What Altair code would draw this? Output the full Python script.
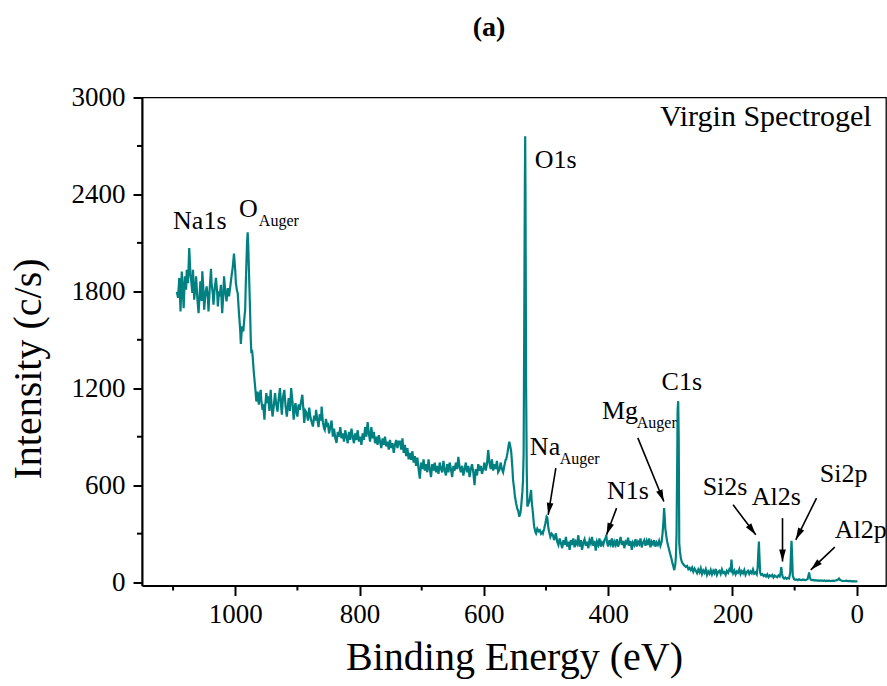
import altair as alt
import pandas as pd
import numpy as np

W, H = 744, 488
X_DOM = [-47, 1150]
Y_DOM = [-21, 3000]
FONT = "'Liberation Serif', 'Times New Roman', Times, serif"
TEAL = "#008080"

# ---- spectrum (binding energy eV, counts c/s) ----
e1 = [1094,1092,1090,1088,1086,1084,1083,1081,1079,1078,1076,1074,1072,1071,1069,1068,1066,1064,1063,1061,
      1059,1057,1056,1054,1053,1051,1050,1048,1046,1044,1043,1041,1039,1038,1036,1035,1033,1031,1029,1028,
      1026,1025,1023,1021,1019,1018,1016,1014,1012,1010,1008,1006,1004,1002,1000,999,997,996,994,992,
      991,989,987,985,984,983,982,981,980,979,978,976,975,974,973,972,970,968,966,964,
      962,961,959,958,956,955,953,952,950,948,947,945,943,942,940]
c1 = [1798,1760,1883,1675,1922,1780,1695,1893,1810,1934,1850,2068,1900,1872,1790,1934,1748,1830,1893,1760,
      1665,1800,1862,1740,1924,1800,1686,1780,1831,1760,1675,1820,1939,1850,1780,1717,1820,1883,1790,1707,
      1800,1769,1840,1665,1790,1893,1800,1738,1820,1769,1830,1893,1950,2033,1930,1852,1800,1790,1665,1560,
      1474,1583,1552,1650,1686,1850,1975,2100,2165,2080,1934,1665,1500,1417,1438,1400,1293,1211,1118,1180,
      1098,1150,1190,1120,1067,1100,1005,1080,1170,1108,1150,1060,1190,1120,1025]

e2 = [938,936,934,932,930,928,926,925,923,921,919,917,915,914,912,910,908,906,904,903,
      901,900,898,896,894,892,890,889,887,885,883,881,879,877,875,873,871,870,868,866,
      864,862,861,859,857,856,854,852,851,849,847,845,843,841,839,837,835]
c2 = [1090,1170,1100,1056,1140,1201,1080,1036,1150,1190,1090,1025,1100,1139,1060,1201,1120,1005,1090,1108,
      1040,1025,1100,1067,1120,1160,1050,985,1060,1046,1000,1080,1020,990,963,1030,1000,1066,1010,960,
      1040,1000,1087,990,950,942,1010,960,985,920,960,1000,901,950,890,862,930]

e3 = [833,831,829,827,825,823,821,819,817,815,813,811,809,807,805,803,801,799,797,795,
      793,791,789,787,785,783,781,779,777,775,773,771,769,767,765,763,761,759,757,755,
      753,751,749,747,745,743,741,739,737]
c3 = [900,960,890,920,870,940,900,860,930,880,950,900,860,920,880,940,870,900,850,920,
      880,960,900,990,920,870,960,890,930,860,900,850,910,870,830,890,850,900,840,870,
      820,880,830,860,800,850,880,830,870]

e4 = [735,733,731,729,727,725,723,721,719,717,715,713,711,709,707,705,703,701,699,697,
      695,693,691,689,687,685,683,681,679,677,675,673,671,669,667,665,663,661,659,657,
      655,653,651,649,647,645,643,641,639,637,635,633,631,629,627,625,623,621,619,617,
      615,613,611,609,607,605,603,601,599,597,595,593,591,589,587,585,583,581,579,577,
      575,573,571,569,567,565]
c4 = [870,820,890,800,850,780,830,760,800,757,810,740,780,720,770,700,640,740,700,760,
      690,730,680,760,700,650,730,690,740,680,720,670,740,700,680,750,690,660,730,680,
      740,700,650,720,690,740,700,776,710,680,720,660,700,740,680,720,650,700,730,680,
      600,700,660,730,690,720,670,700,740,690,730,818,740,700,760,690,730,700,750,680,
      694,740,700,680,720,757]

e5 = [564,562,560,559,557,556,554,553,551,550,548,546,545,543,541,540,538,537,536,535,
      534,533.5,533,532,531,530,528,527,525,524,523,521,520,519,517,516,514,512,510,508,
      506,505,503,501,500,499,498,496,495,493,491,489,487,485,484,482]
c5 = [760,800,850,869,830,807,700,632,570,530,487,450,446,405,430,467,560,632,800,1600,
      2500,2760,2400,1200,700,468,487,500,545,570,500,426,380,343,310,302,330,315,322,300,
      310,302,330,364,385,405,400,330,312,280,300,291,260,290,302,250]

e6 = [480,478,476,474,472,470,468,466,464,462,460,458,456,454,452,450,448,446,444,442,
      440,438,436,434,432,430,428,426,424,422,420,418,416,414,412,410,408,406,404,403,
      402,400,398,396,394,392,390,388,386,384,382,380,378,376,374,372,370,368,366,364,
      362,360,358,356,354,352,350,348,346,344,342,340,338,336,334,332,330,328,326,324,
      322,320,318,316,314]
c6 = [230,270,240,210,260,230,280,220,250,200,260,230,270,215,250,235,290,220,260,200,
      245,265,225,250,210,260,240,280,225,255,195,250,230,270,220,245,230,260,275,292,
      250,220,260,235,270,215,250,230,265,220,245,280,230,255,210,250,240,275,225,255,
      200,245,230,265,220,250,235,270,215,245,260,225,255,230,270,215,250,235,260,220,
      245,230,255,225,250]

e7 = [312.5,311,310,309,308,307,305.5,304.5,302.5,300.5,298.5,296.5,295,293.7,292,291,290,289,288.3,287.3,
      286.5,285.6,284.5,283,281.5,280,278,275,273,271,269,267,265,263,261,259,257,255]
c7 = [302,380,458,400,330,302,260,240,210,178,150,116,95,74,110,157,300,700,1065,1120,
      900,240,190,147,125,116,105,95,100,80,88,74,90,65,84,70,55,78]

e8 = [253,251,249,247,245,243,241,239,237,235,233,231,229,227,225,223,221,219,217,215,
      213,211,209,207,205,203,201.6,200.5,199,197,195,193,191,189,187,185,183,181,179,177,
      175,173,171,169,167,165,163,161,159.5,158.5,157.5,156.5,155.5,154,152,150,148,146,144,142,
      140,138,136,134,132,130,128,126,124,122.5,121.5,120.5,119,117,115,113,111,109,107,106,
      105,104,103,101,99,97,95,93,91,89,87,85,83,81,79,77.5,76.7,75.5,74,72,
      70,68,66,64,62,60,58,56,54,52,50,48,46,44,42,40,38,36,34,32,
      30,28.5,27,25,23,20,17,14,11,8,5,2,-1]
c8 = [60,85,50,72,58,80,45,66,52,75,48,70,55,82,45,64,70,50,78,56,
      62,45,70,58,80,70,140,80,55,72,48,66,58,80,50,68,55,75,45,62,
      70,50,66,55,78,52,60,48,90,180,251,150,60,45,50,38,45,35,48,30,
      42,36,44,28,40,35,30,42,35,60,93,55,30,22,28,20,25,22,60,170,
      256,160,40,18,14,16,12,18,14,12,16,14,12,15,20,45,60,30,15,12,
      14,10,12,9,11,8,10,9,8,10,7,9,8,9,7,8,9,8,10,12,
      16,22,14,10,8,7,9,6,7,5,6,4,4]

segs = [(e1, c1), (e2, c2), (e3, c3), (e4, c4), (e5, c5), (e6, c6), (e7, c7), (e8, c8)]
for i, (e, c) in enumerate(segs):
    assert len(e) == len(c), (i, len(e), len(c))
energy = [v for e, _ in segs for v in e]
counts = [v for _, c in segs for v in c]
spec = pd.DataFrame({"E": energy, "C": counts})

# ---- axis ticks ----
x_major = [0, 200, 400, 600, 800, 1000]
x_minor = [100, 300, 500, 700, 900, 1100]
y_major = [0, 600, 1200, 1800, 2400, 3000]
y_minor = [300, 900, 1500, 2100, 2700]

# ---- annotations ----
lab_text = ["Na1s", "O", "O1s", "Na", "Mg", "N1s", "C1s", "Si2s", "Al2s", "Si2p", "Al2p"]
lab_E = [1100, 994, 518, 526, 410, 402, 314, 248, 169, 59.5, 35.4]
lab_C = [2186, 2260, 2564, 788, 1009, 514, 1190, 540, 478, 622, 272]
sub_text = ["Auger", "Auger", "Auger"]
sub_E = [962, 478, 354]
sub_C = [2205, 732, 953]
arr_Es = [484.2, 386.5, 352.3, 199.0, 119.5, 64.8, 35.4]
arr_Cs = [705.4, 458.0, 893.0, 478.3, 396.0, 519.8, 216.6]
arr_Et = [496.5, 402.6, 310.4, 162.5, 119.5, 98.1, 74.0]
arr_Ct = [416.5, 292.7, 498.8, 292.7, 127.5, 261.8, 76.1]

px_E = W / (X_DOM[1] - X_DOM[0])
px_C = H / (Y_DOM[1] - Y_DOM[0])
arrows = pd.DataFrame({"Es": arr_Es, "Cs": arr_Cs, "E": arr_Et, "C": arr_Ct})
dx = -(arrows["E"] - arrows["Es"]) * px_E
dy = -(arrows["C"] - arrows["Cs"]) * px_C
arrows["ang"] = np.degrees(np.arctan2(dx, -dy)) % 360

xs = alt.Scale(domain=X_DOM, reverse=True, nice=False, zero=False)
ys = alt.Scale(domain=Y_DOM, nice=False, zero=False)

x_axis = alt.Axis(
    values=x_major, format="d", title="Binding Energy (eV)", tickSize=10, labelPadding=6,
    titleY=84, titleBaseline="alphabetic", titleFontSize=40,
    labelFont=FONT, titleFont=FONT)
y_axis = alt.Axis(
    values=y_major, format="d", title="Intensity (c/s)", tickSize=9, labelPadding=8,
    titleAngle=270, titleX=-102, titleY=271, titleAlign="center",
    titleBaseline="alphabetic", titleFontSize=40,
    labelFont=FONT, titleFont=FONT)

def X(f="E"):
    return alt.X(f"{f}:Q", scale=xs, axis=x_axis)

def Y(f="C"):
    return alt.Y(f"{f}:Q", scale=ys, axis=y_axis)

line = alt.Chart(spec).mark_line(color=TEAL, strokeWidth=2.2).encode(
    x=X(), y=Y(), order=alt.Order("E:Q", sort="descending"))

xminor = alt.Chart(pd.DataFrame({"E": x_minor})).mark_rule(color="black", strokeWidth=2).encode(
    x=X(), y=alt.value(H), y2=alt.value(H + 5))
yminor = alt.Chart(pd.DataFrame({"C": y_minor})).mark_rule(color="black", strokeWidth=2).encode(
    y=Y(), x=alt.value(-5), x2=alt.value(0))

rules = alt.Chart(arrows).mark_rule(color="black", strokeWidth=1.6).encode(
    x=X("Es"), y=Y("Cs"), x2="E:Q", y2="C:Q")
heads = alt.Chart(arrows).mark_point(
    shape="M0,0L-0.56,2L0.56,2Z", filled=True, color="black", opacity=1, size=144, strokeWidth=0
).encode(x=X(), y=Y(), angle=alt.Angle("ang:Q", scale=None))

labels = alt.Chart(pd.DataFrame({"t": lab_text, "E": lab_E, "C": lab_C})).mark_text(
    font=FONT, fontSize=26, align="left", baseline="alphabetic", color="black"
).encode(x=X(), y=Y(), text="t:N")
subs = alt.Chart(pd.DataFrame({"t": sub_text, "E": sub_E, "C": sub_C})).mark_text(
    font=FONT, fontSize=16, align="left", baseline="alphabetic", color="black"
).encode(x=X(), y=Y(), text="t:N")
virgin = alt.Chart(pd.DataFrame({"t": ["Virgin Spectrogel"], "E": [-24], "C": [2824]})).mark_text(
    font=FONT, fontSize=30, align="right", baseline="alphabetic", color="black"
).encode(x=X(), y=Y(), text="t:N")
title = alt.Chart(pd.DataFrame({"t": ["(a)"]})).mark_text(
    font=FONT, fontSize=28, fontWeight="bold", align="center", baseline="alphabetic", color="black"
).encode(x=alt.value(347), y=alt.value(-62), text="t:N")

chart = alt.layer(line, xminor, yminor, rules, heads, labels, subs, virgin, title).properties(
    width=W, height=H,
    padding={"left": 142, "top": 97.5, "right": 1, "bottom": 100.5},
    autosize=alt.AutoSizeParams(type="none"),
    background="white",
).configure_view(stroke="black", strokeWidth=1.3).configure_axis(
    grid=False, domainColor="black", domainWidth=2, tickColor="black", tickWidth=2,
    labelFont=FONT, labelFontSize=27, labelColor="black", titleFont=FONT,
    titleFontWeight="normal", titleColor="black", labelFlush=False, labelOverlap=False,
).configure_text(font=FONT)

chart.save("out.html", embed_options={"renderer": "svg", "actions": False})
